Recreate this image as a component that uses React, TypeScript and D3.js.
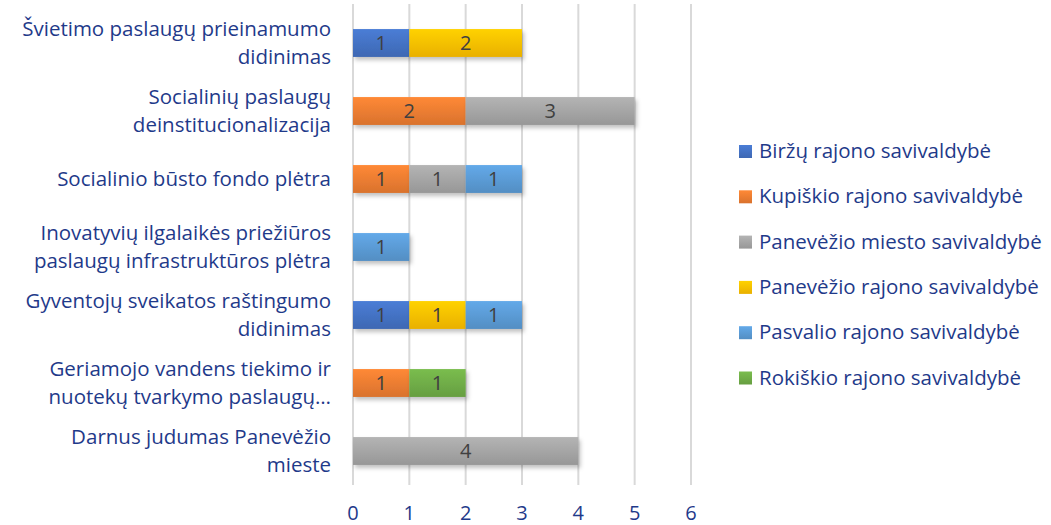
import React, { useEffect, useRef } from 'react';
import * as d3 from 'd3';

// kategorijos (iš viršaus į apačią), su eilučių laužymu kaip originale
const categories = [
  'Švietimo paslaugų prieinamumo didinimas',
  'Socialinių paslaugų deinstitucionalizacija',
  'Socialinio būsto fondo plėtra',
  'Inovatyvių ilgalaikės priežiūros paslaugų infrastruktūros plėtra',
  'Gyventojų sveikatos raštingumo didinimas',
  'Geriamojo vandens tiekimo ir nuotekų tvarkymo paslaugų plėtra',
  'Darnus judumas Panevėžio mieste',
];
const categoryLines = [
  ['Švietimo paslaugų prieinamumo', 'didinimas'],
  ['Socialinių paslaugų', 'deinstitucionalizacija'],
  ['Socialinio būsto fondo plėtra'],
  ['Inovatyvių ilgalaikės priežiūros', 'paslaugų infrastruktūros plėtra'],
  ['Gyventojų sveikatos raštingumo', 'didinimas'],
  ['Geriamojo vandens tiekimo ir', 'nuotekų tvarkymo paslaugų…'],
  ['Darnus judumas Panevėžio', 'mieste'],
];

const seriesNames = [
  'Biržų rajono savivaldybė',
  'Kupiškio rajono savivaldybė',
  'Panevėžio miesto savivaldybė',
  'Panevėžio rajono savivaldybė',
  'Pasvalio rajono savivaldybė',
  'Rokiškio rajono savivaldybė',
];
const seriesColors = ['#4472C4', '#ED7D31', '#A5A5A5', '#FFC000', '#5B9BD5', '#70AD47'];

// reikšmės pagal seriją, kategorijų tvarka
const birzu = [1, 0, 0, 0, 1, 0, 0];
const kupiskio = [0, 2, 1, 0, 0, 1, 0];
const panevezioMiesto = [0, 3, 1, 0, 0, 0, 4];
const panevezioRajono = [2, 0, 0, 0, 1, 0, 0];
const pasvalio = [0, 0, 1, 1, 1, 0, 0];
const rokiskio = [0, 0, 0, 0, 0, 1, 0];
const seriesValues = [birzu, kupiskio, panevezioMiesto, panevezioRajono, pasvalio, rokiskio];

const xTicks = [0, 1, 2, 3, 4, 5, 6];

const TEXT = '#1F3A8A';
const FONT = '"Open Sans", Lato, sans-serif';

const App: React.FC = () => {
  const svgRef = useRef<SVGSVGElement>(null);

  useEffect(() => {
    if (!svgRef.current) return;
    const root = d3.select(svgRef.current);
    root.selectAll('*').remove();

    const W = 1051;
    const H = 525;
    root.attr('width', W).attr('height', H);

    // Excel stiliaus gradientai ir šešėlis
    const defs = root.append('defs');
    seriesColors.forEach((c, i) => {
      const g = defs
        .append('linearGradient')
        .attr('id', `grad${i}`)
        .attr('x1', 0)
        .attr('y1', 0)
        .attr('x2', 0)
        .attr('y2', 1);
      g.append('stop').attr('offset', '0%').attr('stop-color', d3.color(c)!.brighter(0.25).formatHex());
      g.append('stop').attr('offset', '100%').attr('stop-color', d3.color(c)!.darker(0.25).formatHex());
    });
    const shadow = defs.append('filter').attr('id', 'shadow').attr('x', '-10%').attr('y', '-20%').attr('width', '130%').attr('height', '160%');
    shadow
      .append('feDropShadow')
      .attr('dx', 2)
      .attr('dy', 3)
      .attr('stdDeviation', 2)
      .attr('flood-color', '#000')
      .attr('flood-opacity', 0.25);

    const left = 353;
    const right = 691;
    const top = 9;
    const bottom = 485;

    const x = d3.scaleLinear().domain([0, 6]).range([left, right]);
    const y = d3
      .scaleBand()
      .domain(categories)
      .range([top, bottom])
      .paddingInner(0.59)
      .paddingOuter(0.295);

    // tinklelis
    root
      .append('g')
      .selectAll('line')
      .data(xTicks)
      .enter()
      .append('line')
      .attr('x1', (d) => x(d))
      .attr('x2', (d) => x(d))
      .attr('y1', 4)
      .attr('y2', bottom)
      .attr('stroke', '#D9D9D9')
      .attr('stroke-width', 2);

    // X ašies žymės
    root
      .append('g')
      .selectAll('text')
      .data(xTicks)
      .enter()
      .append('text')
      .attr('x', (d) => x(d))
      .attr('y', 519.5)
      .attr('text-anchor', 'middle')
      .attr('fill', TEXT)
      .style('font-family', FONT)
      .style('font-size', '20px')
      .text((d) => d);

    // kategorijų pavadinimai
    const lineH = 28;
    categories.forEach((c, i) => {
      const lines = categoryLines[i];
      const cy = (y(c) || 0) + y.bandwidth() / 2;
      const t = root
        .append('text')
        .attr('text-anchor', 'end')
        .attr('fill', TEXT)
        .style('font-family', FONT)
        .style('font-size', '20.5px');
      lines.forEach((ln, j) => {
        t.append('tspan')
          .attr('x', 331)
          .attr('y', cy + (j - (lines.length - 1) / 2) * lineH)
          .attr('dy', '0.35em')
          .text(ln);
      });
    });

    // sukrauti stulpeliai
    const table = categories.map((c, i) => {
      const row: Record<string, number | string> = { category: c };
      seriesNames.forEach((s, k) => (row[s] = seriesValues[k][i]));
      return row;
    });
    const stacked = d3
      .stack<Record<string, number | string>>()
      .keys(seriesNames)
      .value((d, key) => d[key] as number)(table);

    stacked.forEach((layer, k) => {
      const g = root.append('g');
      layer.forEach((seg) => {
        const v = seg[1] - seg[0];
        if (v <= 0) return;
        const cat = seg.data.category as string;
        const y0 = y(cat) || 0;
        g.append('rect')
          .attr('x', x(seg[0]))
          .attr('y', y0)
          .attr('width', x(seg[1]) - x(seg[0]))
          .attr('height', y.bandwidth())
          .attr('fill', `url(#grad${k})`)
          .attr('filter', 'url(#shadow)');
      });
    });

    // reikšmių žymės
    stacked.forEach((layer) => {
      layer.forEach((seg) => {
        const v = seg[1] - seg[0];
        if (v <= 0) return;
        const cat = seg.data.category as string;
        root
          .append('text')
          .attr('x', (x(seg[0]) + x(seg[1])) / 2)
          .attr('y', (y(cat) || 0) + y.bandwidth() / 2)
          .attr('dy', '0.35em')
          .attr('text-anchor', 'middle')
          .attr('fill', '#404040')
          .style('font-family', FONT)
          .style('font-size', '20px')
          .text(v);
      });
    });

    // legenda
    const legend = root.append('g');
    seriesNames.forEach((s, i) => {
      const ly = 151 + i * 45.3;
      legend
        .append('rect')
        .attr('x', 739)
        .attr('y', ly - 6)
        .attr('width', 13)
        .attr('height', 13)
        .attr('fill', `url(#grad${i})`);
      legend
        .append('text')
        .attr('x', 759)
        .attr('y', ly)
        .attr('dy', '0.35em')
        .attr('fill', TEXT)
        .style('font-family', FONT)
        .style('font-size', '20.5px')
        .text(s);
    });
  }, []);

  return <svg ref={svgRef} style={{ position: 'absolute', left: 0, top: 0 }}></svg>;
};

export default App;
